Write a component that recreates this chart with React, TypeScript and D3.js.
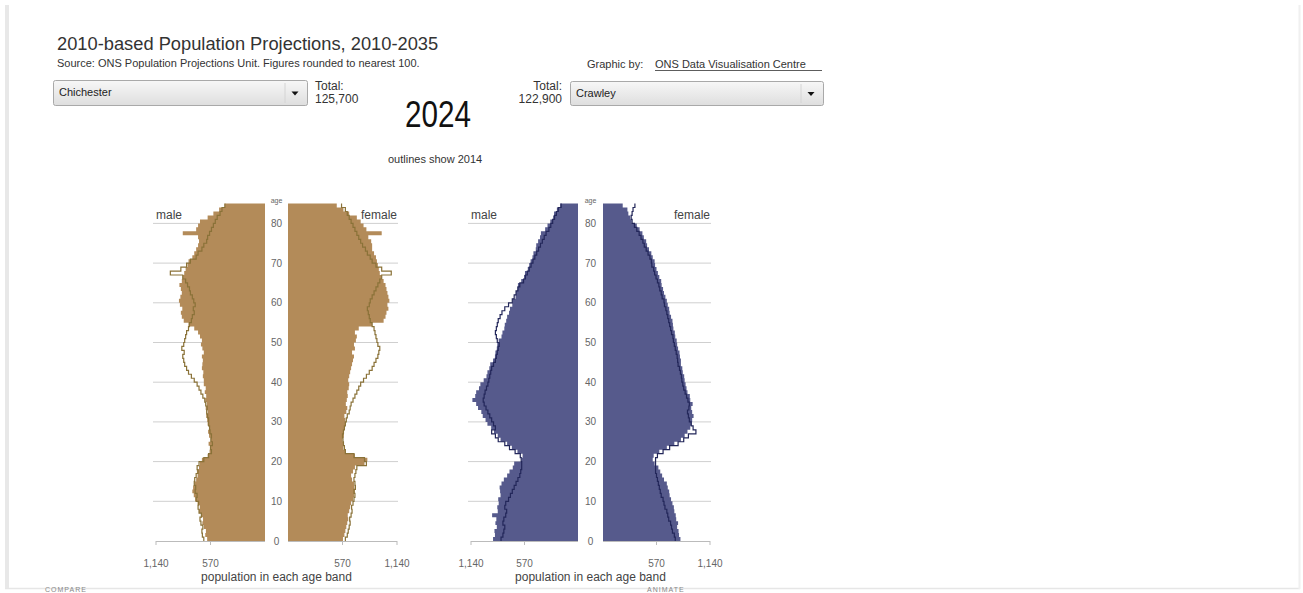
import React from "react";
import * as d3 from "d3";

// ---------- data ----------
const AGE_TICKS = [0, 10, 20, 30, 40, 50, 60, 70, 80];
const POP_TICKS = [570, 1140];
const MAX_POP = 1140;
const N_AGES = 85;

const LEFT_AREA = "Chichester";
const LEFT_TOTAL = 125700;
const RIGHT_AREA = "Crawley";
const RIGHT_TOTAL = 122900;
const YEAR = 2024;
const OUTLINE_YEAR = 2014;

// Chichester 2024 / 2014 (ages 0..84)
const chiMale2024 = [
  605, 625, 618, 640, 655, 648, 670, 690, 682, 705,
  730, 745, 760, 752, 740, 720, 705, 712, 690, 680,
  660, 600, 580, 575, 590, 570, 585, 595, 580, 600,
  605, 615, 600, 620, 610, 625, 615, 630, 620, 640,
  640, 650, 645, 660, 655, 650, 660, 640, 655, 670,
  660, 680, 700, 740, 800, 850, 870, 880, 865, 890,
  900, 885, 870, 880, 895, 870, 860, 845, 830, 810,
  800, 760, 740, 720, 700, 690, 700, 860, 720, 700,
  680, 600, 540, 480, 420,
];
const chiMale2014 = [
  640, 655, 660, 650, 670, 680, 665, 690, 700, 695,
  720, 710, 730, 725, 740, 735, 720, 700, 710, 690,
  640, 590, 560, 570, 550, 565, 560, 575, 580, 590,
  590, 600, 610, 605, 620, 630, 650, 670, 690, 710,
  740, 770, 800, 820, 840, 850, 860, 845, 870, 850,
  840, 830, 820, 800, 790, 770, 760, 740, 750, 730,
  745, 760, 780, 790, 810, 830, 860, 990, 880, 820,
  780, 720, 700, 660, 640, 610, 600, 580, 560, 540,
  520, 500, 470, 450, 420,
];
const chiFemale2024 = [
  575, 590, 600, 610, 620, 630, 625, 640, 650, 660,
  680, 690, 700, 695, 690, 670, 660, 680, 700, 800,
  830, 700, 600, 580, 575, 570, 585, 580, 590, 600,
  600, 590, 610, 620, 605, 615, 625, 620, 635, 640,
  630, 640, 650, 660, 670, 680, 690, 670, 700, 690,
  710, 720, 700, 740, 880, 1000, 1020, 1030, 1050, 1040,
  1060, 1050, 1040, 1030, 1020, 1000, 980, 960, 950, 940,
  930, 920, 900, 880, 880, 870, 840, 980, 820, 790,
  760, 720, 640, 580, 510,
];
const chiFemale2014 = [
  600, 620, 630, 640, 650, 645, 660, 670, 665, 680,
  690, 700, 690, 705, 700, 690, 700, 710, 720, 820,
  800, 690, 600, 590, 580, 575, 570, 580, 590, 600,
  610, 620, 640, 650, 660, 680, 700, 720, 740, 760,
  790, 820, 850, 880, 900, 920, 940, 950, 960, 940,
  930, 920, 910, 900, 880, 860, 850, 840, 830, 850,
  860, 880, 900, 920, 940, 960, 980, 1080, 980, 920,
  880, 860, 830, 810, 780, 760, 740, 720, 700, 680,
  660, 640, 620, 600, 560,
];

// Crawley 2024 / 2014 (ages 0..84)
const craMale2024 = [
  905, 885, 890, 865, 880, 870, 915, 855, 860, 845,
  850, 825, 830, 835, 815, 790, 755, 730, 695, 680,
  600, 590, 645, 705, 755, 825, 855, 895, 925, 965,
  985, 1015, 1030, 1065, 1085, 1125, 1095, 1085, 1055, 1040,
  1005, 975, 965, 945, 935, 905, 885, 880, 865, 860,
  845, 815, 805, 785, 780, 765, 755, 735, 725, 700,
  695, 665, 660, 645, 640, 605, 575, 565, 535, 520,
  505, 485, 475, 450, 445, 425, 405, 395, 350, 325,
  295, 265, 255, 225, 190,
];
const craMale2014 = [
  820, 800, 790, 780, 800, 790, 770, 760, 780, 770,
  740, 720, 700, 680, 660, 640, 620, 610, 600, 600,
  605, 615, 670, 730, 780, 850, 880, 920, 880, 900,
  920, 940, 960, 980, 1000, 1010, 1000, 990, 975, 960,
  950, 940, 930, 920, 900, 880, 870, 860, 850, 840,
  860, 870, 880, 870, 860, 850, 830, 810, 780, 740,
  700, 680, 660, 640, 620, 580, 560, 540, 520, 500,
  480, 460, 440, 420, 400, 380, 360, 340, 310, 290,
  270, 250, 230, 210, 180,
];
const craFemale2024 = [
  825, 810, 805, 790, 800, 780, 775, 760, 755, 740,
  725, 710, 705, 690, 680, 650, 630, 610, 590, 550,
  530, 540, 600, 680, 760, 830, 870, 900, 930, 945,
  950, 965, 950, 940, 955, 930, 925, 900, 890, 880,
  870, 865, 850, 845, 830, 830, 820, 815, 800, 790,
  785, 770, 765, 750, 745, 740, 725, 710, 705, 690,
  680, 665, 650, 640, 625, 620, 600, 585, 570, 555,
  550, 530, 515, 490, 470, 460, 435, 420, 390, 360,
  305, 290, 270, 260, 210,
];
const craFemale2014 = [
  770, 760, 740, 730, 720, 700, 690, 680, 660, 650,
  640, 620, 610, 600, 590, 580, 570, 560, 560, 560,
  560, 580, 640, 710, 800, 860, 910, 990, 960, 940,
  920, 910, 900, 915, 920, 905, 890, 875, 860, 850,
  840, 835, 825, 815, 800, 795, 790, 780, 770, 760,
  750, 745, 730, 720, 710, 700, 690, 680, 670, 655,
  650, 630, 620, 605, 595, 580, 565, 550, 540, 520,
  515, 500, 480, 460, 440, 425, 405, 385, 360, 335,
  310, 300, 310, 320, 340,
];

// ---------- styles ----------
const FONT = "'Liberation Sans', Arial, Helvetica, sans-serif";
const TEXT = "#333";

type PyrProps = {
  cx: number;
  maleZero: number;
  femaleZero: number;
  span: number;
  male: number[];
  female: number[];
  maleOld: number[];
  femaleOld: number[];
  fill: string;
  outline: string;
};

const yScale = d3
  .scaleLinear()
  .domain([0, N_AGES])
  .range([541, 541 - N_AGES * 3.97]);

function steps(vals: number[]): [number, number][] {
  const pts: [number, number][] = [];
  vals.forEach((v, a) => {
    pts.push([v, a]);
    pts.push([v, a + 1]);
  });
  return pts;
}

function Pyramid(p: PyrProps) {
  const xm = d3.scaleLinear().domain([0, MAX_POP]).range([p.maleZero, p.maleZero - p.span]);
  const xf = d3.scaleLinear().domain([0, MAX_POP]).range([p.femaleZero, p.femaleZero + p.span]);
  const fmt = d3.format(",");

  const areaFor = (xs: d3.ScaleLinear<number, number>) =>
    d3
      .area<[number, number]>()
      .y((d) => yScale(d[1]))
      .x0(xs(0))
      .x1((d) => xs(d[0]));
  const lineFor = (xs: d3.ScaleLinear<number, number>) =>
    d3
      .line<[number, number]>()
      .x((d) => xs(d[0]))
      .y((d) => yScale(d[1]));

  const y0 = yScale(0);
  return (
    <g>
      {AGE_TICKS.filter((a) => a > 0).map((a) => (
        <g key={"g" + a}>
          <line x1={xm(MAX_POP) - 3} x2={xm(0)} y1={yScale(a)} y2={yScale(a)} stroke="#cfcfcf" strokeWidth={1} />
          <line x1={xf(0)} x2={xf(MAX_POP) + 1} y1={yScale(a)} y2={yScale(a)} stroke="#cfcfcf" strokeWidth={1} />
        </g>
      ))}
      <path d={areaFor(xm)(steps(p.male)) || ""} fill={p.fill} />
      <path d={areaFor(xf)(steps(p.female)) || ""} fill={p.fill} />
      <path d={lineFor(xm)(steps(p.maleOld)) || ""} fill="none" stroke={p.outline} strokeWidth={1.2} />
      <path d={lineFor(xf)(steps(p.femaleOld)) || ""} fill="none" stroke={p.outline} strokeWidth={1.2} />
      {AGE_TICKS.map((a) => (
        <text key={"a" + a} x={p.cx} y={yScale(a) + 3.5} textAnchor="middle" fontSize={10} fill="#666" fontFamily={FONT}>
          {a}
        </text>
      ))}
      <text x={p.cx} y={yScale(N_AGES) - 0.5} textAnchor="middle" fontSize={7} fill="#666" fontFamily={FONT}>
        age
      </text>
      <text x={xm(MAX_POP)} y={219} fontSize={12} fill="#444" fontFamily={FONT}>
        male
      </text>
      <text x={xf(MAX_POP)} y={219} textAnchor="end" fontSize={12} fill="#444" fontFamily={FONT}>
        female
      </text>
      <line x1={xm(MAX_POP)} x2={xm(0)} y1={y0 + 0.5} y2={y0 + 0.5} stroke="#bbb" />
      <line x1={xf(0)} x2={xf(MAX_POP)} y1={y0 + 0.5} y2={y0 + 0.5} stroke="#bbb" />
      {POP_TICKS.map((t) => (
        <g key={"t" + t}>
          <line x1={xm(t)} x2={xm(t)} y1={y0} y2={y0 + 4} stroke="#bbb" />
          <line x1={xf(t)} x2={xf(t)} y1={y0} y2={y0 + 4} stroke="#bbb" />
          <text x={xm(t)} y={567} textAnchor="middle" fontSize={10} fill="#666" fontFamily={FONT}>
            {fmt(t)}
          </text>
          <text x={xf(t)} y={567} textAnchor="middle" fontSize={10} fill="#666" fontFamily={FONT}>
            {fmt(t)}
          </text>
        </g>
      ))}
      <text x={p.cx} y={581} textAnchor="middle" fontSize={12} fill="#444" fontFamily={FONT}>
        population in each age band
      </text>
    </g>
  );
}

function Dropdown({ x, y, w, h, label }: { x: number; y: number; w: number; h: number; label: string }) {
  const ax = x + w - 12;
  const ay = y + h / 2 + 1;
  return (
    <g>
      <rect x={x + 0.5} y={y + 0.5} width={w} height={h} rx={2} fill="url(#ddGrad)" stroke="#a9a9a9" />
      <line x1={x + w - 22} x2={x + w - 22} y1={y + 3} y2={y + h - 2} stroke="#d4d4d4" />
      <path d={`M${ax - 3.5},${ay - 2} L${ax + 3.5},${ay - 2} L${ax},${ay + 2} Z`} fill="#111" />
      <text x={x + 6} y={y + 16} fontSize={11} fill="#222" fontFamily={FONT}>
        {label}
      </text>
    </g>
  );
}

export default function App() {
  const fmt = d3.format(",");
  return (
    <svg
      width={1303}
      height={593}
      style={{ position: "absolute", left: 0, top: 0, background: "#fff" }}
      fontFamily={FONT}
    >
      <defs>
        <linearGradient id="ddGrad" x1="0" x2="0" y1="0" y2="1">
          <stop offset="0%" stopColor="#f7f7f7" />
          <stop offset="100%" stopColor="#dedede" />
        </linearGradient>
      </defs>
      <rect x={5} y={5} width={4} height={583} fill="#e8e8e8" />
      <line x1={5} x2={1300} y1={588.5} y2={588.5} stroke="#e6e6e6" strokeWidth={1.5} />
      <line x1={1299.5} x2={1299.5} y1={5} y2={589} stroke="#f0f0f0" strokeWidth={2} />

      <text x={57} y={50} fontSize={18.3} fill={TEXT}>
        2010-based Population Projections, 2010-2035
      </text>
      <text x={57} y={67} fontSize={11} fill={TEXT}>
        Source: ONS Population Projections Unit. Figures rounded to nearest 100.
      </text>
      <text x={587} y={68} fontSize={11} fill={TEXT}>
        Graphic by:
      </text>
      <text x={655} y={68} fontSize={11} fill={TEXT}>
        ONS Data Visualisation Centre
      </text>
      <line x1={655} x2={822} y1={70.5} y2={70.5} stroke={TEXT} strokeWidth={0.8} />

      <Dropdown x={53} y={80} w={254} h={25} label={LEFT_AREA} />
      <text x={315} y={90} fontSize={12} fill={TEXT}>
        Total:
      </text>
      <text x={315} y={103} fontSize={12} fill={TEXT}>
        {fmt(LEFT_TOTAL)}
      </text>

      <Dropdown x={570} y={81} w={253} h={24} label={RIGHT_AREA} />
      <text x={562} y={90} fontSize={12} fill={TEXT} textAnchor="end">
        Total:
      </text>
      <text x={562} y={103} fontSize={12} fill={TEXT} textAnchor="end">
        {fmt(RIGHT_TOTAL)}
      </text>

      <text x={405} y={127} fontSize={37} fill="#111" textLength={66} lengthAdjust="spacingAndGlyphs">
        {YEAR}
      </text>
      <text x={388} y={163} fontSize={11} fill={TEXT}>
        {`outlines show ${OUTLINE_YEAR}`}
      </text>

      <Pyramid
        cx={276.5}
        maleZero={265}
        femaleZero={288}
        span={109}
        male={chiMale2024}
        female={chiFemale2024}
        maleOld={chiMale2014}
        femaleOld={chiFemale2014}
        fill="#b38b59"
        outline="#8a7238"
      />
      <Pyramid
        cx={590.5}
        maleZero={578}
        femaleZero={603}
        span={107}
        male={craMale2024}
        female={craFemale2024}
        maleOld={craMale2014}
        femaleOld={craFemale2014}
        fill="#565a8c"
        outline="#23275a"
      />

      <text x={45} y={592} fontSize={7} fill="#888" letterSpacing={1}>
        COMPARE
      </text>
      <text x={647} y={592} fontSize={7} fill="#888" letterSpacing={1}>
        ANIMATE
      </text>
    </svg>
  );
}
